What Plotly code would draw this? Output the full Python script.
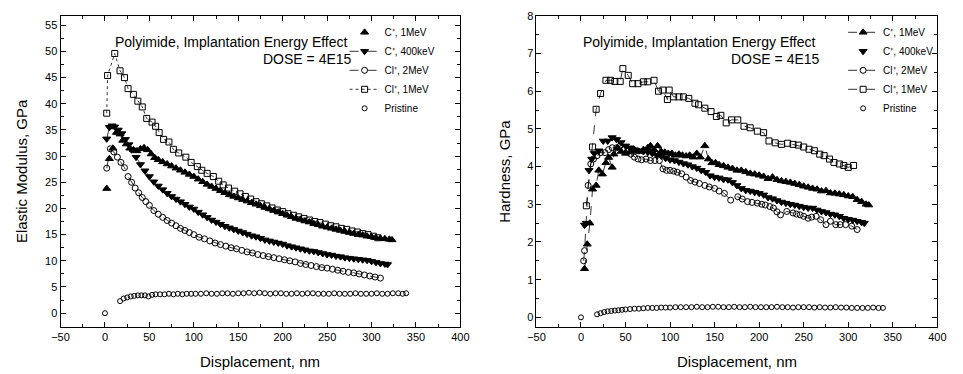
import plotly.graph_objects as go

# ---------------- Elastic modulus (left) ----------------
em_c1_x = [2, 5, 9, 13, 17, 20, 24, 28, 32, 36, 40, 44, 48, 52, 56, 60, 65, 70, 75, 80, 85, 90, 95, 100,
           105, 110, 115, 120, 125, 130, 135, 140, 145, 150, 155, 160, 165, 170, 175, 180, 185, 190, 195,
           200, 205, 210, 215, 220, 225, 230, 235, 240, 245, 250, 255, 260, 265, 270, 275, 280, 285, 290,
           295, 300, 305, 310, 315, 320, 323]
em_c1_y = [23.8, 29.5, 31.5, 34.5, 34.2, 33.0, 32.3, 31.5, 31.2, 31.0, 31.4, 31.6, 31.2, 30.4, 29.7, 29.3,
           28.9, 28.5, 28.1, 27.7, 27.3, 26.9, 26.5, 26.1, 25.6, 25.1, 24.6, 24.2, 23.8, 23.4, 23.0, 22.6,
           22.3, 22.0, 21.7, 21.4, 21.1, 20.8, 20.5, 20.2, 19.9, 19.6, 19.3, 19.0, 18.7, 18.4, 18.1, 17.9,
           17.6, 17.4, 17.1, 16.9, 16.6, 16.4, 16.2, 16.0, 15.8, 15.6, 15.4, 15.2, 15.0, 14.9, 14.7, 14.6,
           14.4, 14.3, 14.2, 14.1, 14.0]

em_c400_x = [2, 5, 8, 11, 15, 19, 23, 27, 30, 35, 40, 45, 50, 55, 60, 65, 70, 75, 80, 85, 90, 95, 100,
             105, 110, 115, 120, 125, 130, 135, 140, 145, 150, 155, 160, 165, 170, 175, 180, 185, 190, 195,
             200, 205, 210, 215, 220, 225, 230, 235, 240, 245, 250, 255, 260, 265, 270, 275, 280, 285, 290,
             295, 300, 305, 310, 315, 318]
em_c400_y = [33.3, 35.5, 35.8, 35.6, 35.0, 34.3, 33.2, 32.2, 31.2, 29.8, 28.4, 27.2, 26.1, 25.1, 24.3,
             23.6, 22.9, 22.3, 21.8, 21.3, 20.8, 20.3, 19.9, 19.3, 18.8, 18.3, 17.8, 17.4, 17.0, 16.6,
             16.3, 16.0, 15.7, 15.4, 15.1, 14.8, 14.6, 14.3, 14.0, 13.8, 13.6, 13.4, 13.2, 12.9, 12.7,
             12.5, 12.3, 12.1, 11.9, 11.8, 11.6, 11.4, 11.2, 11.1, 10.9, 10.8, 10.6, 10.5, 10.4, 10.3,
             10.2, 10.1, 9.9, 9.7, 9.5, 9.4, 9.3]

em_cl2_x = [2, 6, 10, 14, 18, 22, 26, 30, 34, 38, 42, 46, 50, 55, 60, 65, 70, 75, 80, 85, 90, 95, 100,
            106, 112, 118, 124, 130, 136, 142, 148, 154, 160, 166, 172, 178, 184, 190, 196, 202, 208, 214,
            220, 226, 232, 238, 244, 250, 256, 262, 268, 274, 280, 286, 292, 298, 304, 310]
em_cl2_y = [27.7, 31.4, 30.8, 29.8, 28.8, 27.8, 26.1, 25.0, 23.9, 23.0, 22.1, 21.3, 20.6, 19.6, 18.9,
            18.3, 17.7, 17.2, 16.7, 16.2, 15.8, 15.4, 15.0, 14.5, 14.2, 13.8, 13.4, 13.1, 12.8, 12.5,
            12.3, 12.0, 11.7, 11.5, 11.2, 11.0, 10.8, 10.6, 10.4, 10.2, 10.0, 9.8, 9.5, 9.3, 9.1, 8.9,
            8.7, 8.6, 8.4, 8.2, 8.0, 7.8, 7.7, 7.5, 7.3, 7.1, 6.9, 6.7]

em_cl1_x = [2, 3, 11, 17, 22, 26, 32, 37, 42, 47, 53, 57, 61, 66, 72, 77, 83, 91, 97, 104, 109, 115, 122,
            128, 133, 139, 146, 152, 158, 164, 170, 176, 182, 188, 194, 200, 206, 212, 218, 224, 230, 236,
            242, 248, 254, 260, 266, 272, 278, 284, 290, 296, 302, 307]
em_cl1_y = [38.2, 45.4, 49.6, 46.3, 45.0, 42.9, 41.8, 40.5, 39.4, 37.2, 36.5, 35.7, 34.5, 33.2, 32.7,
            31.3, 30.6, 29.8, 28.8, 28.0, 27.3, 26.7, 26.1, 25.2, 24.5, 23.9, 23.3, 22.8, 22.3, 21.8,
            21.3, 20.9, 20.5, 20.1, 19.7, 19.4, 19.0, 18.7, 18.4, 18.1, 17.8, 17.5, 17.3, 17.0, 16.7,
            16.5, 16.2, 16.0, 15.7, 15.5, 15.2, 15.0, 14.7, 14.4]

em_pr_x = [0, 17, 21, 25, 29, 33, 37, 41, 45, 49, 53, 57, 62, 67, 72, 77, 82, 87, 92, 97, 102, 108, 114,
           120, 126, 132, 138, 144, 150, 156, 162, 168, 174, 180, 186, 192, 198, 204, 210, 216, 222, 228,
           234, 240, 246, 252, 258, 264, 270, 276, 282, 288, 294, 300, 306, 312, 318, 324, 330, 335, 339]
em_pr_y = [0, 2.3, 2.8, 3.0, 3.2, 3.3, 3.4, 3.4, 3.4, 3.2, 3.5, 3.6, 3.6, 3.6, 3.7, 3.6, 3.7, 3.6, 3.7,
           3.7, 3.7, 3.7, 3.8, 3.7, 3.7, 3.8, 3.8, 3.7, 3.8, 3.8, 3.9, 3.8, 3.9, 3.8, 3.7, 3.8, 3.8, 3.7,
           3.7, 3.8, 3.7, 3.8, 3.8, 3.7, 3.7, 3.7, 3.8, 3.7, 3.7, 3.7, 3.8, 3.7, 3.7, 3.7, 3.8, 3.7, 3.7,
           3.8, 3.8, 3.7, 3.8]

# ---------------- Hardness (right) ----------------
h_c1_x = [4, 7, 10, 13, 17, 20, 24, 28, 31, 35, 37, 41, 45, 50, 55, 60, 65, 70, 75, 78, 82, 86, 90, 94,
          98, 102, 106, 110, 114, 118, 122, 126, 130, 134, 139, 143, 147, 151, 155, 160, 165, 170, 175,
          180, 185, 190, 195, 200, 205, 210, 215, 220, 225, 230, 235, 240, 245, 250, 255, 260, 265, 270,
          275, 280, 285, 290, 295, 300, 305, 310, 315, 320, 323]
h_c1_y = [1.29, 1.94, 2.5, 3.4, 3.5, 3.9, 3.8, 4.1, 4.24, 3.98, 4.33, 4.5, 4.4, 4.35, 4.4, 4.45, 4.4,
          4.45, 4.5, 4.55, 4.45, 4.55, 4.4, 4.38, 4.35, 4.35, 4.3, 4.33, 4.3, 4.28, 4.3, 4.25, 4.35, 4.25,
          4.55, 4.2, 4.1, 4.1, 4.05, 4.02, 3.98, 3.95, 3.9, 3.9, 3.86, 3.82, 3.8, 3.77, 3.74, 3.68, 3.72,
          3.65, 3.62, 3.6, 3.58, 3.55, 3.52, 3.48, 3.45, 3.42, 3.4, 3.35, 3.36, 3.3, 3.29, 3.27, 3.25,
          3.22, 3.2, 3.12, 3.07, 3.0, 2.98]

h_c400_x = [4, 6, 9, 12, 15, 20, 25, 30, 35, 40, 45, 50, 55, 60, 65, 70, 75, 80, 85, 90, 95, 100, 105,
            110, 115, 120, 125, 130, 135, 140, 145, 150, 155, 160, 165, 170, 175, 180, 185, 190, 195, 200,
            205, 210, 215, 220, 225, 230, 235, 240, 245, 250, 255, 260, 265, 270, 275, 280, 285, 290, 295,
            300, 305, 310, 315, 318]
h_c400_y = [2.45, 2.5, 3.9, 4.2, 4.35, 4.42, 4.68, 4.68, 4.77, 4.72, 4.64, 4.55, 4.5, 4.45, 4.42, 4.4,
            4.38, 4.35, 4.3, 4.28, 4.22, 4.18, 4.16, 4.12, 4.08, 4.05, 4.0, 3.96, 3.9, 3.85, 3.76, 3.72,
            3.7, 3.66, 3.65, 3.58, 3.5, 3.42, 3.37, 3.35, 3.32, 3.29, 3.25, 3.18, 3.15, 3.1, 3.06, 3.03,
            3.0, 2.98, 2.95, 2.92, 2.9, 2.9, 2.85, 2.81, 2.78, 2.74, 2.72, 2.68, 2.63, 2.6, 2.58, 2.55,
            2.52, 2.5]

h_cl2_x = [3, 4, 8, 11, 14, 18, 22, 27, 31, 35, 40, 44, 48, 52, 56, 60, 64, 68, 73, 78, 83, 88, 92, 96,
           100, 104, 108, 113, 118, 123, 128, 133, 139, 144, 150, 155, 161, 168, 176, 181, 187, 192, 198,
           203, 207, 212, 216, 220, 224, 231, 238, 242, 246, 250, 255, 259, 264, 269, 275, 280, 286, 291,
           297, 304, 310]
h_cl2_y = [1.5, 1.77, 3.5, 4.07, 4.2, 4.29, 4.37, 4.37, 4.45, 4.5, 4.5, 4.55, 4.46, 4.4, 4.33, 4.25,
           4.2, 4.18, 4.2, 4.16, 4.16, 4.16, 3.94, 3.9, 3.9, 3.88, 3.85, 3.81, 3.72, 3.63, 3.59, 3.55,
           3.5, 3.46, 3.42, 3.35, 3.29, 3.11, 3.2, 3.14, 3.07, 3.05, 3.03, 3.0, 2.98, 2.94, 2.9, 2.8,
           2.72, 2.81, 2.77, 2.74, 2.72, 2.68, 2.63, 2.66, 2.68, 2.59, 2.46, 2.55, 2.46, 2.46, 2.46,
           2.42, 2.33]

h_cl1_x = [6, 13, 17, 22, 28, 33, 38, 44, 47, 53, 58, 64, 70, 75, 82, 87, 92, 97, 99, 104, 110, 115,
           121, 128, 132, 139, 146, 152, 157, 163, 169, 176, 183, 190, 198, 205, 211, 218, 225, 232, 238,
           244, 250, 256, 262, 268, 273, 279, 284, 290, 295, 300, 306]
h_cl1_y = [2.96, 4.52, 5.52, 5.94, 6.29, 6.29, 6.26, 6.26, 6.6, 6.42, 6.2, 6.2, 6.25, 6.25, 6.29, 6.0,
           6.03, 5.78, 6.03, 5.85, 5.85, 5.85, 5.81, 5.68, 5.64, 5.55, 5.46, 5.33, 5.36, 5.16, 5.24, 5.24,
           5.07, 5.03, 4.94, 4.9, 4.68, 4.63, 4.59, 4.62, 4.59, 4.57, 4.52, 4.46, 4.42, 4.33, 4.29, 4.2,
           4.11, 4.07, 4.03, 3.98, 4.03]

h_pr_x = [0, 18, 22, 26, 30, 34, 38, 42, 46, 50, 55, 60, 65, 70, 75, 80, 85, 90, 95, 100, 106, 112, 118,
          124, 130, 136, 142, 148, 154, 160, 166, 172, 178, 184, 190, 196, 202, 208, 214, 220, 226, 232,
          238, 244, 250, 256, 262, 268, 274, 280, 286, 292, 298, 304, 310, 316, 322, 328, 334, 339]
h_pr_y = [0, 0.08, 0.11, 0.14, 0.16, 0.17, 0.18, 0.19, 0.2, 0.21, 0.22, 0.23, 0.23, 0.24, 0.25, 0.25,
          0.25, 0.26, 0.26, 0.26, 0.27, 0.27, 0.27, 0.27, 0.28, 0.27, 0.27, 0.28, 0.28, 0.27, 0.27, 0.28,
          0.27, 0.27, 0.28, 0.27, 0.27, 0.27, 0.27, 0.28, 0.27, 0.27, 0.26, 0.27, 0.27, 0.27, 0.26, 0.27,
          0.26, 0.26, 0.27, 0.26, 0.26, 0.25, 0.25, 0.25, 0.25, 0.26, 0.25, 0.25]

series_names = ["C\u207a, 1MeV", "C\u207a, 400keV", "Cl\u207a, 2MeV", "Cl\u207a, 1MeV", "Pristine"]

FONT = "Liberation Sans, Arial, sans-serif"
fig = go.Figure()


def add(x, y, name, symbol, size, dash, xa, ya, legend):
    mode = "markers" if dash is None else "lines+markers"
    fig.add_trace(go.Scatter(
        x=x, y=y, name=name, mode=mode, xaxis=xa, yaxis=ya, legend=legend,
        marker=dict(symbol=symbol, size=size, color="black", line=dict(color="black", width=1)),
        line=dict(color="black", width=0.8, dash=dash or "solid"),
    ))


left = [(em_c1_x, em_c1_y, "triangle-up", 7, None),
        (em_c400_x, em_c400_y, "triangle-down", 7, "dash"),
        (em_cl2_x, em_cl2_y, "circle-open", 6, "dash"),
        (em_cl1_x, em_cl1_y, "square-open", 6, "dot"),
        (em_pr_x, em_pr_y, "circle-open", 5, None)]
right = [(h_c1_x, h_c1_y, "triangle-up", 7, "dash"),
         (h_c400_x, h_c400_y, "triangle-down", 7, None),
         (h_cl2_x, h_cl2_y, "circle-open", 6, "dash"),
         (h_cl1_x, h_cl1_y, "square-open", 6, "dash"),
         (h_pr_x, h_pr_y, "circle-open", 5, None)]

for name, (x, y, s, sz, d) in zip(series_names, left):
    add(x, y, name, s, sz, d, "x", "y", "legend")
for name, (x, y, s, sz, d) in zip(series_names, right):
    add(x, y, name, s, sz, d, "x2", "y2", "legend2")

W, H = 963, 374
axcommon = dict(showline=True, linecolor="black", linewidth=1, mirror="allticks",
                ticks="inside", ticklen=5, tickwidth=1, tickcolor="black",
                showgrid=False, zeroline=False,
                tickfont=dict(family=FONT, size=11, color="black"))

fig.update_layout(
    width=W, height=H, margin=dict(l=0, r=0, t=0, b=0),
    paper_bgcolor="white", plot_bgcolor="white",
    font=dict(family=FONT, color="black"),
    xaxis=dict(domain=[52.5 / W, 460 / W], range=[-50, 400], dtick=50, anchor="y",
               minor=dict(ticks="inside", ticklen=3, dtick=25, tickcolor="black"), **axcommon),
    yaxis=dict(domain=[1 - 326 / H, 1 - 10 / H], range=[-2.6, 56.8], dtick=5, tick0=0, anchor="x",
               minor=dict(ticks="inside", ticklen=3, dtick=2.5, tickcolor="black"), **axcommon),
    xaxis2=dict(domain=[537.5 / W, 946 / W], range=[-50, 400], dtick=50, anchor="y2",
                minor=dict(ticks="inside", ticklen=3, dtick=25, tickcolor="black"), **axcommon),
    yaxis2=dict(domain=[1 - 326 / H, 1 - 10 / H], range=[-0.25, 8.0], dtick=1, tick0=0, anchor="x2",
                minor=dict(ticks="inside", ticklen=3, dtick=0.5, tickcolor="black"), **axcommon),
    legend=dict(x=342 / W, y=1 - 12 / H, xanchor="left", yanchor="top", bgcolor="rgba(0,0,0,0)",
                font=dict(family=FONT, size=10, color="black"), tracegroupgap=0),
    legend2=dict(x=850 / W, y=1 - 12 / H, xanchor="left", yanchor="top", bgcolor="rgba(0,0,0,0)",
                 font=dict(family=FONT, size=10, color="black"), tracegroupgap=0),
    showlegend=True,
)

ann = [
    dict(text="Polyimide, Implantation Energy Effect", x=227 / W, y=1 - 37 / H),
    dict(text="DOSE = 4E15", x=304 / W, y=1 - 54 / H),
    dict(text="Polyimide, Implantation Energy Effect", x=704 / W, y=1 - 37 / H),
    dict(text="DOSE = 4E15", x=781 / W, y=1 - 54 / H),
]
for a in ann:
    fig.add_annotation(xref="paper", yref="paper", showarrow=False, xanchor="center", yanchor="middle",
                       font=dict(family=FONT, size=14, color="black"), **a)

titles = [
    dict(text="Displacement, nm", x=256 / W, y=1 - 361 / H, textangle=0),
    dict(text="Displacement, nm", x=742 / W, y=1 - 361 / H, textangle=0),
    dict(text="Elastic Modulus, GPa", x=13 / W, y=1 - 168 / H, textangle=-90),
    dict(text="Hardness, GPa", x=505 / W, y=1 - 168 / H, textangle=-90),
]
for t in titles:
    fig.add_annotation(xref="paper", yref="paper", showarrow=False, xanchor="center", yanchor="middle",
                       font=dict(family=FONT, size=15, color="black"), **t)

fig.write_html("out.html")
